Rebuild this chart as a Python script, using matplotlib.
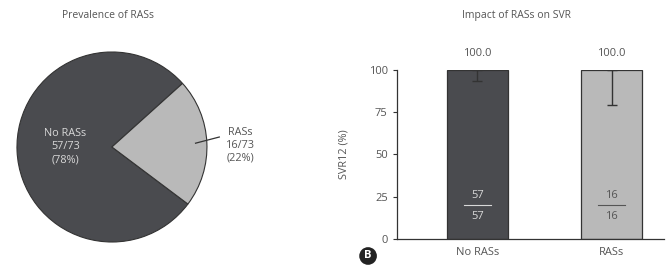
import numpy as np
import matplotlib.pyplot as plt

plt.rcParams['font.family'] = ['Open Sans', 'DejaVu Sans']

# pie data
pie_labels = ['No RASs', 'RASs']
pie_counts = [57, 16]
pie_total = 73

# bar data
bar_labels = ['No RASs', 'RASs']
svr_values = [100.0, 100.0]
svr_lower_err = [6.5, 20.5]
svr_n = [57, 16]
svr_d = [57, 16]

dark = '#4a4b4f'
light = '#b9b9b9'
txt = '#555555'

fig = plt.figure(figsize=(6.68, 2.65), dpi=100)

# --- pie ---
ax1 = fig.add_axes([0.0254, 0.0868, 0.2844, 0.717])
ax1.pie(pie_counts, colors=[dark, light], startangle=42, counterclock=True,
        wedgeprops=dict(edgecolor='#333333', linewidth=0.8))
ax1.set_xlim(-1, 1)
ax1.set_ylim(-1, 1)
ax1.set_aspect('auto')
ax1.axis('off')
ax1.text(-0.49, 0.0, f'{pie_labels[0]}\n{pie_counts[0]}/{pie_total}\n({pie_counts[0]/pie_total*100:.0f}%)',
         ha='center', va='center', color='#d8d8d8', fontsize=7.8, linespacing=1.25)
ax1.text(1.35, 0.02, f'{pie_labels[1]}\n{pie_counts[1]}/{pie_total}\n({pie_counts[1]/pie_total*100:.0f}%)',
         ha='center', va='center', color=txt, fontsize=7.8, linespacing=1.25, clip_on=False)
ax1.plot([0.88, 1.13], [0.04, 0.105], color='#333333', lw=0.9, clip_on=False)
fig.text(0.162, 0.94, 'Prevalence of RASs', ha='center', va='center', color=txt, fontsize=7.5)

# --- bars ---
ax2 = fig.add_axes([0.594, 0.098, 0.4, 0.638])
x = np.arange(len(bar_labels))
ax2.bar(x, svr_values, width=0.455, color=[dark, light], edgecolor='#333333', linewidth=0.9)
ax2.errorbar(x, svr_values, yerr=[svr_lower_err, [0, 0]], fmt='none', ecolor='#333333',
             elinewidth=1.0, capsize=3.5, capthick=1.0)
ax2.set_xlim(-0.6, 1.39)
ax2.set_ylim(0, 100)
ax2.set_yticks([0, 25, 50, 75, 100])
ax2.set_xticks(x)
ax2.set_xticklabels(bar_labels)
ax2.tick_params(colors='#333333', labelcolor=txt, labelsize=8, length=3, width=0.8)
ax2.tick_params(axis='x', length=0, pad=6)
for s in ['top', 'right']:
    ax2.spines[s].set_visible(False)
for s in ['left', 'bottom']:
    ax2.spines[s].set_color('#333333')
    ax2.spines[s].set_linewidth(0.9)
ax2.set_ylabel('SVR12 (%)', color=txt, fontsize=7.8, labelpad=14)
for i, v in enumerate(svr_values):
    ax2.text(x[i], 110, f'{v:.1f}', ha='center', va='center', color=txt, fontsize=8, clip_on=False)
    c = '#555555' if i == 1 else '#d8d8d8'
    ax2.text(x[i], 26, str(svr_n[i]), ha='center', va='center', color=c, fontsize=8)
    ax2.text(x[i], 13.5, str(svr_d[i]), ha='center', va='center', color=c, fontsize=8)
    ax2.plot([x[i] - 0.1, x[i] + 0.1], [20, 20], color=c, lw=0.8)
fig.text(0.773, 0.94, 'Impact of RASs on SVR', ha='center', va='center', color=txt, fontsize=7.5)

# panel marker
fig.text(0.551, 0.034, 'B', ha='center', va='center', color='white', fontsize=8, fontweight='bold',
         bbox=dict(boxstyle='circle,pad=0.3', fc='#222222', ec='none'))

fig.savefig('out.png', dpi=100)
